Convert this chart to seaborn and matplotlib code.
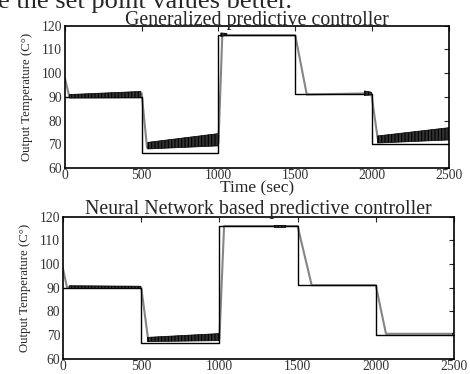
import matplotlib
matplotlib.use("Agg")
import matplotlib.pyplot as plt
import seaborn as sns

sns.set_style("white")
plt.rcParams['font.family'] = ['Liberation Serif', 'DejaVu Serif']
plt.rcParams['hatch.linewidth'] = 0.8

# ---------------- data ----------------
titles = ["Generalized predictive controller", "Neural Network based predictive controller"]
ylabel = "Output Temperature (C\u00b0)"
xlabel_top = "Time (sec)"
header = "e the set point values better."
xticks = [0, 500, 1000, 1500, 2000, 2500]
yticks = [60, 70, 80, 90, 100, 110, 120]

# set point (step, post)
sp_t = [0, 500, 1000, 1500, 2000, 2500]
sp_v = [90, 66.5, 116, 91, 70, 70]

# GPC: smooth (grey) response
gpc_ref_t = [0, 28, 500, 535, 1000, 1025, 1500, 1575, 1995, 2040, 2500]
gpc_ref_v = [98, 90.3, 91.5, 68.5, 70.5, 116, 116, 91, 91.5, 71, 73]
# GPC: noisy output envelope
gpc_band_t = [[30, 495], [540, 1000], [1015, 1055], [1950, 1995], [2035, 2500]]
gpc_band_lo = [[89.5, 89.6], [68.0, 69.3], [115.5, 116.0], [90.6, 90.8], [70.5, 71.8]]
gpc_band_hi = [[91.0, 92.3], [70.8, 74.5], [117.0, 116.8], [92.5, 92.0], [73.5, 77.0]]

# NN: smooth (grey) response
nn_ref_t = [0, 25, 500, 545, 1000, 1030, 1500, 1590, 2000, 2065, 2500]
nn_ref_v = [98, 90.2, 90.2, 67.8, 68.5, 116, 116, 91, 91, 70.5, 70.5]
# NN: noisy output envelope
nn_band_t = [[40, 495], [540, 1000], [1350, 1420], [2485, 2500]]
nn_band_lo = [[89.6, 89.6], [67.2, 67.6], [115.6, 115.6], [69.8, 69.8]]
nn_band_hi = [[90.8, 90.6], [69.0, 70.6], [116.3, 116.3], [71.0, 71.0]]

# ---------------- figure ----------------
fig = plt.figure(figsize=(4.70, 3.74), dpi=100)
ax1 = fig.add_axes([0.138, 0.551, 0.817, 0.380])
ax2 = fig.add_axes([0.134, 0.041, 0.832, 0.380])

grey = "#858585"

def draw(ax, ref_t, ref_v, band_t, band_lo, band_hi, title, tpad):
    sns.lineplot(x=ref_t, y=ref_v, ax=ax, color=grey, linewidth=1.5, estimator=None, sort=False)
    for (t0, t1), (l0, l1), (h0, h1) in zip(band_t, band_lo, band_hi):
        ax.fill_between([t0, t1], [l0, l1], [h0, h1], facecolor="#333333", hatch="|||||",
                        edgecolor="#000000", linewidth=0.5, zorder=3)
    sns.lineplot(x=sp_t, y=sp_v, ax=ax, color="black", linewidth=1.0, drawstyle="steps-post",
                 estimator=None, sort=False)
    ax.set_xlim(0, 2500)
    ax.set_ylim(60, 120)
    ax.set_xticks(xticks)
    ax.set_yticks(yticks)
    ax.tick_params(direction="in", length=3.5, width=0.8, labelsize=9.8, pad=2,
                   top=True, right=True, labelcolor="#333333")
    for s in ax.spines.values():
        s.set_color("black")
        s.set_linewidth(1.2)
    ax.set_title(title, fontsize=14.3, pad=tpad)
    ax.set_ylabel(ylabel, fontsize=9.2, labelpad=6)

draw(ax1, gpc_ref_t, gpc_ref_v, gpc_band_t, gpc_band_lo, gpc_band_hi, titles[0], 0.5)
draw(ax2, nn_ref_t, nn_ref_v, nn_band_t, nn_band_lo, nn_band_hi, titles[1], 2)
ax1.tick_params(axis="x", pad=0.5)
ax1.set_xlabel(xlabel_top, fontsize=12.5, labelpad=-1)
ax2.tick_params(axis="x", pad=1)

fig.text(-2 / 470, 1 - 8 / 374, header, fontsize=19, va="baseline", ha="left")

fig.savefig("out.png", dpi=100, facecolor="white")
